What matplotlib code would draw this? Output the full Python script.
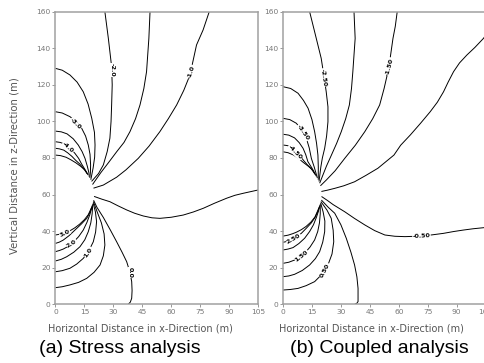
import matplotlib
matplotlib.use("Agg")
import matplotlib.pyplot as plt

# ---- contour traces, data units (m) ----
# (a) stress analysis
a_m10 = [(79.7,160),(76.5,150),(73.1,141.8),(69.7,125.4),(66.5,117),(62.8,109),(58.5,101.5),
         (54.1,94.4),(48.5,86.5),(42.9,79.8),(36.5,73.5),(31.7,69.5),(24.8,65.2),(19.7,63.5)]
a_m15 = [(49,160),(48.4,145.4),(47.2,127.2),(45.8,118),(43.8,109),(41.5,101.5),(38.6,94.4),
         (35.5,88.5),(31.7,83.4),(27.5,77.5),(23.5,72),(19.2,65.5)]
a_m20 = [(25.6,160),(27.4,145.4),(29.1,129.9),(29.4,120),(29.1,109),(28.8,100),(28.2,90.8),
         (26.8,83.5),(24.8,76.2),(22.3,71.5),(18.7,67.2)]
a_m25 = [(0,129),(3.5,128),(7.5,125.4),(11.2,121.5),(14.4,116.2),(16.9,109.5),(18.8,101.7),
         (20.2,94),(20.5,87.1),(20.3,80.5),(19.5,74.5),(18.3,68.1)]
a_m30 = [(0,105.3),(3.5,104.6),(7.5,102.6),(10.8,99.8),(13.6,96.2),(15.6,92),(17,87.1),
         (17.9,82),(18.2,76.2),(18.1,72),(17.8,69.1)]
a_m35 = [(0,94.7),(3,94.3),(6,93.2),(9.2,90.5),(11.8,87.1),(13.8,83.5),(15.3,79.8),
         (16.5,75.5),(17.3,72),(17.5,69.7)]
a_m40 = [(0,88.9),(2.5,88.5),(5.2,87.4),(7.8,85.2),(10.1,82.5),(12,79.8),(13.5,76.8),
         (15,74.2),(16.9,70.7)]
a_m45 = [(0,85.3),(2,85),(4.3,84.3),(6.5,82.7),(8.6,80.8),(10.5,78.7),(12.5,76.8),
         (14.5,74.3),(16.6,71.2)]
a_m50 = [(0,81.6),(2.6,81.3),(5.5,80.4),(8,79),(10.5,77.4),(13,75.5),(15.5,73.2),(16.4,71.5)]
a_m05 = [(20,59),(24,57.5),(28.2,56.1),(32.5,53.8),(36.9,51.6),(41,49.8),(45.5,48.3),(50,47.3),
         (54.1,47),(60,47.6),(66.2,48.8),(71.5,50.5),(76.6,52.5),(82.5,55.3),(88.7,58),
         (93,59.6),(97.3,60.7),(105,62.5)]
a_p00 = [(19.75,56.9),(21.5,53),(24.8,47.5),(28.5,40.5),(31.7,34.2),(34.5,28.5),(36.9,23.3),
         (38.6,17.5),(39.5,12.4),(39.7,7.5),(39.5,3.3),(38.8,1.2),(37.7,0)]
a_p05 = [(0,9.1),(3.5,9.6),(7.5,10.6),(12,12),(16.2,14.2),(20,17.5),(23.1,21.5),(24.8,26.5),
         (25.6,32.4),(25.2,38.5),(23.8,44.5),(21.8,50),(19.63,56.2)]
a_p10 = [(0,17.8),(3.5,18.4),(7.5,19.7),(11,22),(14.4,25.1),(17.3,29.3),(19.6,34.2),
         (20.8,39.5),(21.3,45.2),(20.7,50.5),(19.49,55.5)]
a_p15 = [(0,23.7),(3,24.6),(5.8,26),(9.5,28.5),(12.7,31.5),(15.2,35.3),(17,39.7),
         (18.3,44.5),(19,49.5),(19.32,54.8)]
a_p20 = [(0,28.8),(2,29.4),(4,30.2),(6.8,31.8),(9.2,33.9),(12,37),(14.4,40.6),(16.3,44.8),
         (17.8,49),(19.13,54.2)]
a_p25 = [(0,33.3),(2,34),(4,35.1),(7,37.5),(10.1,40.6),(13.5,44),(16.2,47),(18.1,50.8),(18.9,53.5)]
a_p30 = [(0,37.9),(2.6,38.4),(5,39.1),(7.5,40.2),(10,41.8),(12.5,43.8),(15,46.3),(17,49),
         (18.67,52.83)]

# (b) coupled analysis
b_m10 = [(105,147),(103.9,145.4),(99.5,140.5),(95.3,136.3),(91.5,132),(88.4,127.2),(85.6,121.5),
         (83.2,116.2),(80,110.5),(76.3,105.3),(71.3,99),(66,92.6),(61,87),(57.5,81.6),
         (49.2,74.4),(43,70.5),(37.1,67),(31.5,64.8),(26.8,63.4),(23,62.4),(19.9,61.7)]
b_m15 = [(59.2,160),(58.2,152),(57,145.4),(55.6,135),(54.4,127.2),(52.4,118),(50.1,109),
         (46.5,101.5),(42.4,94.4),(37.5,87),(32,79.8),(27,73),(22.5,68),(19.4,64.8)]
b_m20 = [(36.8,160),(37.4,145.4),(36.2,127.2),(35.5,118),(34.4,109),(32.5,101.5),(30.2,94.4),
         (27.8,88),(25.1,81.6),(22.5,75.5),(19,66.2)]
b_m25 = [(13.8,160),(16.4,149),(19.8,134.5),(21.2,125),(22.4,116.2),(23.3,108),(23.3,99.8),
         (22.6,92),(21.6,85.3),(20.4,80),(19.6,75),(18.67,67.17)]
b_m30 = [(0,119),(4,118),(7.8,115.4),(10.6,111.5),(13,107.2),(15,101),(16.4,94.4),(17.4,88),
         (18.1,81.6),(18.3,75),(18.27,68.13)]
b_m35 = [(0,101.7),(3.5,101),(6.9,99),(9.8,95.2),(12.1,90.8),(13.6,85.5),(14.7,79.8),
         (16.2,75),(17.8,69.1)]
b_m40 = [(0,93),(3,92.5),(6,91),(8.4,88.4),(10.4,85.3),(11.8,81.8),(12.9,78),(15,74.5),(17.3,70)]
b_m45 = [(0,87.1),(2.2,86.8),(4.5,85.7),(6.8,83.7),(8.8,81.3),(10.7,78.6),(12.6,76.3),
         (14.5,74.3),(16.8,70.85)]
b_m50 = [(0,83.4),(2.6,82.9),(5.5,81.6),(8,79.8),(10.5,77.6),(13,75.6),(15.5,73.3),(16.5,71.3)]
b_m05 = [(19.97,58.95),(23,56.8),(26,54.5),(32,50.6),(37,47),(42.4,43.4),(47.5,40.3),(52.8,37.9),
         (58,37.2),(63.2,37),(71.8,37.3),(77.5,38),(83.2,38.8),(88.5,39.8),(93.5,40.6),
         (98.5,41.3),(105,42)]
b_p00 = [(19.9,57),(23.5,53),(26.8,49.8),(30,43.5),(32.8,36.1),(35.2,28.5),(37.1,21.5),
         (38.3,15),(38.9,8.7),(38.9,1.5),(38.2,0.5),(37.2,0)]
b_p05 = [(0,7.8),(3.8,8.1),(7.8,8.7),(12,10.2),(16.4,12.4),(20.3,16.5),(23.3,21.5),(25.4,27.5),
         (26.3,34.2),(26,40.5),(25,47),(22.8,51.5),(19.63,56.2)]
b_p10 = [(0,15.1),(3,15.5),(6,16.4),(10,18.5),(13.8,21.5),(16.8,25),(19,28.8),(20.6,34),
         (21.6,39.7),(21.7,45.5),(20.8,50.5),(19.49,55.5)]
b_p15 = [(0,22.4),(3,23),(6,24.2),(8.8,25.8),(11.2,27.9),(14,31.3),(16.4,35.2),(18,39.8),
         (18.9,44.5),(19.3,49.5),(19.32,54.8)]
b_p20 = [(0,29.7),(2.6,30.2),(5.2,31),(8.2,33.2),(11.2,36.1),(13.8,39.8),(15.8,43.5),
         (17.3,47.5),(18.4,51),(19.13,54.2)]
b_p25 = [(0,33.9),(2.2,34.4),(4.5,35.3),(7,37),(9.5,38.8),(12,41.5),(14.5,44.3),(16.5,47.3),
         (18.1,50.8),(18.9,53.5)]
b_p30 = [(0,37.3),(2.6,37.8),(5,38.6),(6.9,39.4),(9.5,40.8),(12,42.6),(14.5,45),(16.6,47.8),
         (18.67,52.83)]

a_curves = [a_m10, a_m15, a_m20, a_m25, a_m30, a_m35, a_m40, a_m45, a_m50, a_m05,
            a_p00, a_p05, a_p10, a_p15, a_p20, a_p25, a_p30]
b_curves = [b_m10, b_m15, b_m20, b_m25, b_m30, b_m35, b_m40, b_m45, b_m50, b_m05,
            b_p00, b_p05, b_p10, b_p15, b_p20, b_p25, b_p30]

# inline labels: text, x, y, rotation
a_labels = [("-1.0", 70.5, 127, 72), ("-2.0", 29.2, 128, -90), ("-3.0", 10.3, 98.5, -45),
            ("-4.0", 6.4, 85.6, -42), ("3.0", 4.9, 38.9, 25), ("2.0", 8.4, 33.2, 32),
            ("1.0", 17.0, 28.5, 55), ("0.0", 38.9, 17.5, -90)]
b_labels = [("-1.50", 55.0, 130, 75), ("-2.50", 21.0, 124, -82), ("-3.50", 10.6, 94.0, -55),
            ("-4.50", 6.2, 83.0, -45), ("-0.50", 71.8, 37.3, 3), ("2.50", 5.6, 35.8, 30),
            ("1.50", 9.6, 26.6, 38), ("0.50", 21.8, 18.5, 62)]

x_ticks = [0, 15, 30, 45, 60, 75, 90, 105]
y_ticks = [0, 20, 40, 60, 80, 100, 120, 140, 160]

fig = plt.figure(figsize=(4.85, 3.63), dpi=100)
ax_a = fig.add_axes([0.1144, 0.1617, 0.4177, 0.8061])
ax_b = fig.add_axes([0.5835, 0.1617, 0.4177, 0.8061])

for ax, curves, labels in [(ax_a, a_curves, a_labels), (ax_b, b_curves, b_labels)]:
    for c in curves:
        xs = [p[0] for p in c]
        ys = [p[1] for p in c]
        ax.plot(xs, ys, color="black", lw=0.7, solid_capstyle="butt")
    for t, x, y, r in labels:
        ax.text(x, y, t, fontsize=4.5, fontweight="bold", rotation=r, rotation_mode="anchor",
                ha="center", va="center", zorder=5,
                bbox=dict(boxstyle="square,pad=0.05", fc="white", ec="none"))
    ax.set_xlim(0, 105)
    ax.set_ylim(0, 160)
    ax.set_xticks(x_ticks)
    ax.set_yticks(y_ticks)
    ax.tick_params(direction="out", length=2, width=0.6, color="#888888",
                   labelsize=5.4, labelcolor="#777777", pad=1.5)
    for s in ax.spines.values():
        s.set_color("#a0a0a0")
        s.set_linewidth(1.1)

fig.text(0.029, 0.545, "Vertical Distance in z-Direction (m)", rotation=90,
         ha="center", va="center", fontsize=7.3, color="#555555")
fig.text(140/485, 0.096, "Horizontal Distance in x-Direction (m)", ha="center", va="center",
         fontsize=7.0, color="#555555")
fig.text(371/485, 0.096, "Horizontal Distance in x-Direction (m)", ha="center", va="center",
         fontsize=7.0, color="#555555")
fig.text(120/485, 0.039, "(a) Stress analysis", ha="center", va="center",
         fontsize=14, family="Liberation Sans")
fig.text(379/485, 0.039, "(b) Coupled analysis", ha="center", va="center",
         fontsize=14, family="Liberation Sans")

fig.savefig("out.png", dpi=100)
